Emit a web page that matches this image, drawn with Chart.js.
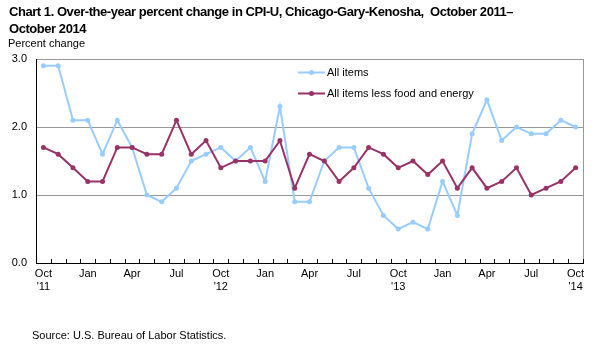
<!DOCTYPE html>
<html>
<head>
<meta charset="utf-8">
<script src="https://cdn.jsdelivr.net/npm/chart.js@4.4.1/dist/chart.umd.min.js"></script>
<style>
	html, body { margin: 0; padding: 0; background: #fff; }
	#wrap { position: relative; width: 593px; height: 349px; font-family: "Liberation Sans", Arial, sans-serif; color: #000; }
	#chart { position: absolute; left: 0; top: 0; }
	.title { position: absolute; left: 9px; top: 3px; font-size: 13px; font-weight: bold; line-height: 17px; letter-spacing: -0.45px; white-space: nowrap; }
	.ylab { position: absolute; left: 8px; top: 37px; font-size: 11px; }
	.source { position: absolute; left: 32px; top: 329px; font-size: 11px; }
</style>
</head>
<body>
<div id="wrap">
	<canvas id="chart" width="593" height="349"></canvas>
	<div class="title">Chart 1. Over-the-year percent change in CPI-U, Chicago-Gary-Kenosha,&nbsp; October 2011–<br>October 2014</div>
	<div class="ylab">Percent change</div>
	<div class="source">Source: U.S. Bureau of Labor Statistics.</div>
</div>
<script>
// months Oct 2011 - Oct 2014
const months = [
	"Oct 2011", "Nov 2011", "Dec 2011", "Jan 2012", "Feb 2012", "Mar 2012", "Apr 2012", "May 2012", "Jun 2012", "Jul 2012", "Aug 2012", "Sep 2012",
	"Oct 2012", "Nov 2012", "Dec 2012", "Jan 2013", "Feb 2013", "Mar 2013", "Apr 2013", "May 2013", "Jun 2013", "Jul 2013", "Aug 2013", "Sep 2013",
	"Oct 2013", "Nov 2013", "Dec 2013", "Jan 2014", "Feb 2014", "Mar 2014", "Apr 2014", "May 2014", "Jun 2014", "Jul 2014", "Aug 2014", "Sep 2014",
	"Oct 2014"
];
const tickLabels = [
	["Oct", "'11"], "", "", "Jan", "", "", "Apr", "", "", "Jul", "", "",
	["Oct", "'12"], "", "", "Jan", "", "", "Apr", "", "", "Jul", "", "",
	["Oct", "'13"], "", "", "Jan", "", "", "Apr", "", "", "Jul", "", "",
	["Oct", "'14"]
];
const allItems = [2.9, 2.9, 2.1, 2.1, 1.6, 2.1, 1.7, 1.0, 0.9, 1.1, 1.5, 1.6, 1.7, 1.5, 1.7, 1.2, 2.3, 0.9, 0.9, 1.5, 1.7, 1.7, 1.1, 0.7, 0.5, 0.6, 0.5, 1.2, 0.7, 1.9, 2.4, 1.8, 2.0, 1.9, 1.9, 2.1, 2.0];
const lessFoodEnergy = [1.7, 1.6, 1.4, 1.2, 1.2, 1.7, 1.7, 1.6, 1.6, 2.1, 1.6, 1.8, 1.4, 1.5, 1.5, 1.5, 1.8, 1.1, 1.6, 1.5, 1.2, 1.4, 1.7, 1.6, 1.4, 1.5, 1.3, 1.5, 1.1, 1.4, 1.1, 1.2, 1.4, 1.0, 1.1, 1.2, 1.4];
const yTicks = [0, 1, 2, 3];

const FONT = "'Liberation Sans', Arial, sans-serif";

// tick marks across the x axis, right frame line, legend
const extras = {
	id: "extras",
	afterDraw(chart) {
		const { ctx, chartArea: a } = chart;
		ctx.save();
		ctx.strokeStyle = "#999999";
		ctx.lineWidth = 1;
		ctx.beginPath();
		ctx.moveTo(Math.round(a.right) + 0.5, a.top);
		ctx.lineTo(Math.round(a.right) + 0.5, a.bottom);
		ctx.stroke();

		ctx.strokeStyle = "#000";
		const n = months.length;
		const step = (a.right - a.left) / n;
		ctx.beginPath();
		for (let i = 0; i <= n; i++) {
			const x = Math.round(a.left + i * step) + 0.5;
			ctx.moveTo(x, a.bottom - 4);
			ctx.lineTo(x, a.bottom + 1);
		}
		ctx.stroke();

		const items = [
			{ ds: chart.data.datasets[1], y: 72.5 },
			{ ds: chart.data.datasets[0], y: 93.5 },
		];
		ctx.font = "11px " + FONT;
		ctx.textBaseline = "middle";
		items.forEach(function (it) {
			ctx.strokeStyle = it.ds.borderColor;
			ctx.lineWidth = 2;
			ctx.beginPath();
			ctx.moveTo(298, it.y);
			ctx.lineTo(325, it.y);
			ctx.stroke();
			ctx.fillStyle = it.ds.borderColor;
			ctx.beginPath();
			ctx.arc(311.5, it.y, 2.5, 0, Math.PI * 2);
			ctx.fill();
			ctx.fillStyle = "#000";
			ctx.fillText(it.ds.label, 327, it.y);
		});
		ctx.restore();
	},
};

const data = {
	labels: months,
	datasets: [
		{
			label: "All items less food and energy",
			data: lessFoodEnergy,
			borderColor: "#993366",
			backgroundColor: "#993366",
			borderWidth: 2,
			pointRadius: 2.5,
			pointBorderWidth: 0,
			pointBackgroundColor: "#993366",
			tension: 0,
			order: 0,
		},
		{
			label: "All items",
			data: allItems,
			borderColor: "#99ccff",
			backgroundColor: "#99ccff",
			borderWidth: 2,
			pointRadius: 2.5,
			pointBorderWidth: 0,
			pointBackgroundColor: "#99ccff",
			tension: 0,
			order: 1,
		},
	],
};

const options = {
	responsive: false,
	animation: false,
	layout: { padding: { left: 0, top: 59, right: 10, bottom: 0 } },
	plugins: {
		legend: { display: false },
		title: { display: false },
		tooltip: { enabled: false },
	},
	scales: {
		x: {
			type: "category",
			offset: true,
			afterFit(scale) { scale.height = 86; },
			grid: { display: false, drawTicks: false },
			border: { color: "#000", width: 1 },
			ticks: {
				autoSkip: false,
				maxRotation: 0,
				minRotation: 0,
				padding: 5,
				color: "#000",
				font: { family: FONT, size: 11, lineHeight: 1.15 },
				callback: function (v, i) { return tickLabels[i]; },
			},
		},
		y: {
			min: yTicks[0],
			max: yTicks[yTicks.length - 1],
			afterFit(scale) { scale.width = 36; },
			afterBuildTicks(scale) { scale.ticks = yTicks.map(function (v) { return { value: v }; }); },
			grid: {
				drawTicks: false,
				color: function (c) { return c.tick && c.tick.value === 0 ? "rgba(0,0,0,0)" : "#999999"; },
			},
			border: { color: "#000", width: 1 },
			ticks: {
				padding: 9,
				color: "#000",
				font: { family: FONT, size: 11 },
				callback: function (v) { return Number(v).toFixed(1); },
			},
		},
	},
};

new Chart(document.getElementById("chart").getContext("2d"), {
	type: "line",
	data: data,
	options: options,
	plugins: [extras],
});
</script>
</body>
</html>
